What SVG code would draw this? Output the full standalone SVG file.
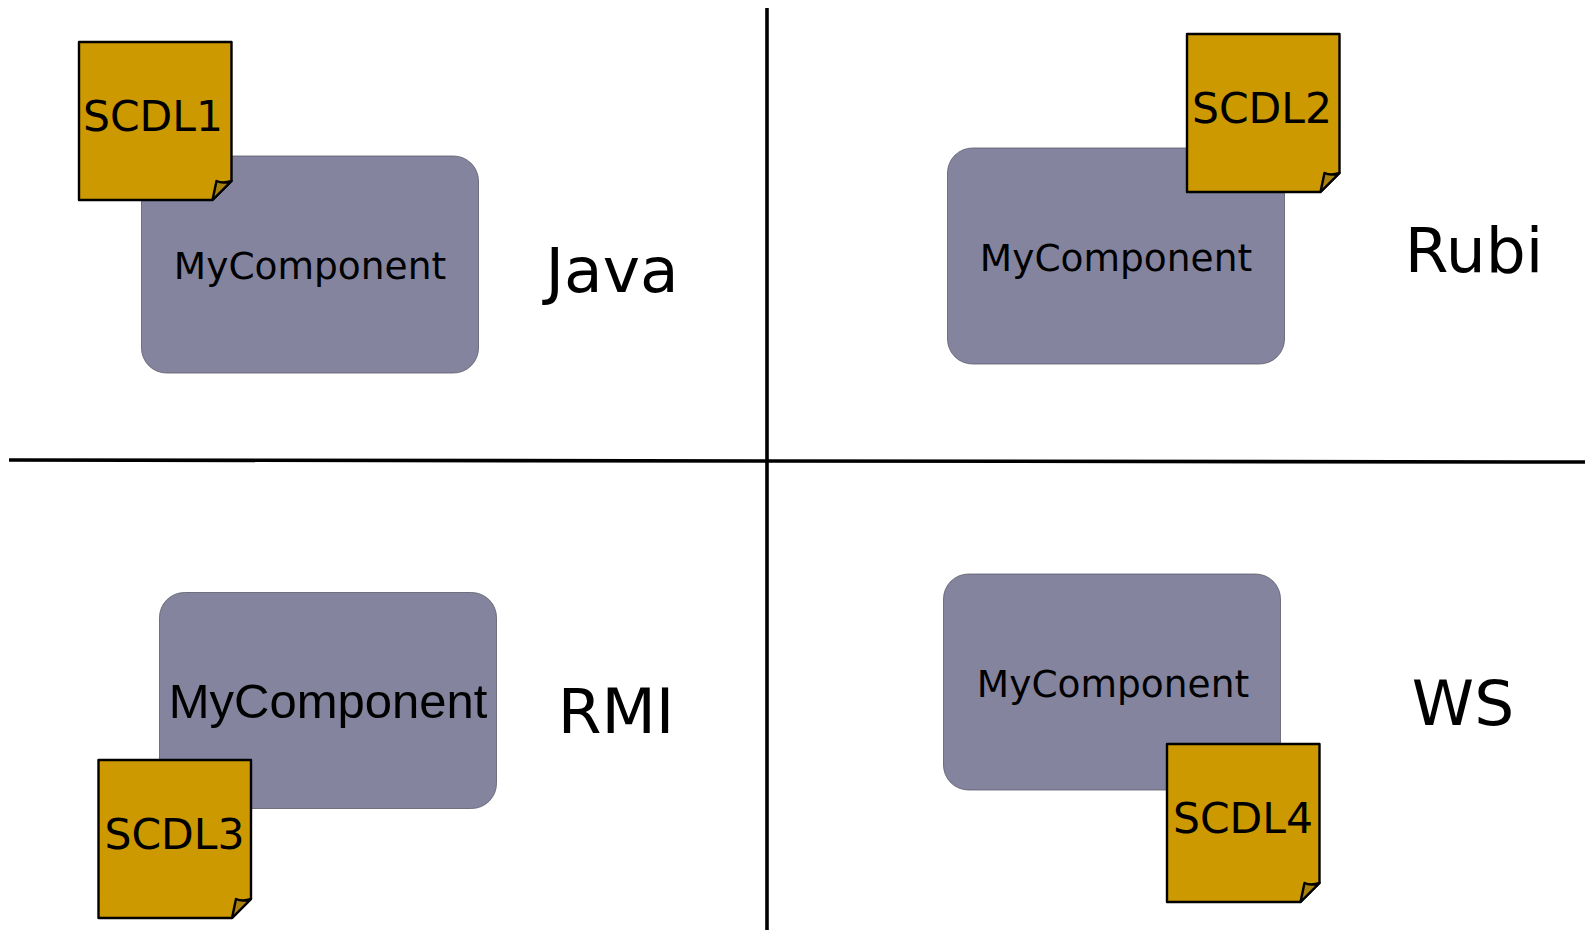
<svg xmlns="http://www.w3.org/2000/svg" width="1585" height="930" viewBox="0 0 1585 930">
<style>
text{font-family:"DejaVu Sans",sans-serif;fill:#000}
.box{fill:#84849f;stroke:#5a5a6a;stroke-width:.8}
.doc{fill:#cc9900;stroke:#000;stroke-width:2.4;stroke-linejoin:round}
.flap{fill:#a8800c;stroke:#000;stroke-width:2.4;stroke-linejoin:round}
.s{font-size:42.5px;text-anchor:middle}
.m{font-size:37.5px;text-anchor:middle}
.l{font-size:63px;text-anchor:middle}
.ln{stroke:#000;stroke-width:3.6;fill:none}
</style>
<defs>
<g id="note">
<path class="doc" d="M0 0H152.500V139L133.500 158H0Z"/>
<path class="flap" d="M133.500 158L137.500 139Q144 142 152.500 139Z"/>
</g>
</defs>
<g id="connectors">
<path class="ln" d="M767 8V930"/>
<path class="ln" d="M9 460L767 461L1585 462"/>
</g>
<g id="java">
<rect class="box" x="141.500" y="156" width="337" height="217" rx="25"/>
<text class="m" x="310" y="279">MyComponent</text>
<use href="#note" x="79" y="42"/>
<text class="s" x="153" y="131">SCDL1</text>
<text class="l" x="612" y="292">Java</text>
</g>
<g id="rubi">
<rect class="box" x="947.500" y="148" width="337" height="216" rx="25"/>
<text class="m" x="1116" y="271">MyComponent</text>
<use href="#note" x="1187" y="34"/>
<text class="s" x="1262" y="123">SCDL2</text>
<text class="l" x="1474" y="272">Rubi</text>
</g>
<g id="rmi">
<rect class="box" x="159.500" y="592.500" width="337" height="216" rx="25"/>
<text class="m" x="328" y="718" style="font-family:'Liberation Sans',sans-serif;font-size:49px">MyComponent</text>
<use href="#note" x="98.500" y="760"/>
<text class="s" x="174.500" y="849">SCDL3</text>
<text class="l" x="616" y="733">RMI</text>
</g>
<g id="ws">
<rect class="box" x="943.500" y="574" width="337" height="216" rx="25"/>
<text class="m" x="1113" y="697">MyComponent</text>
<use href="#note" x="1167" y="744"/>
<text class="s" x="1243" y="833">SCDL4</text>
<text class="l" x="1463" y="725">WS</text>
</g>
</svg>
